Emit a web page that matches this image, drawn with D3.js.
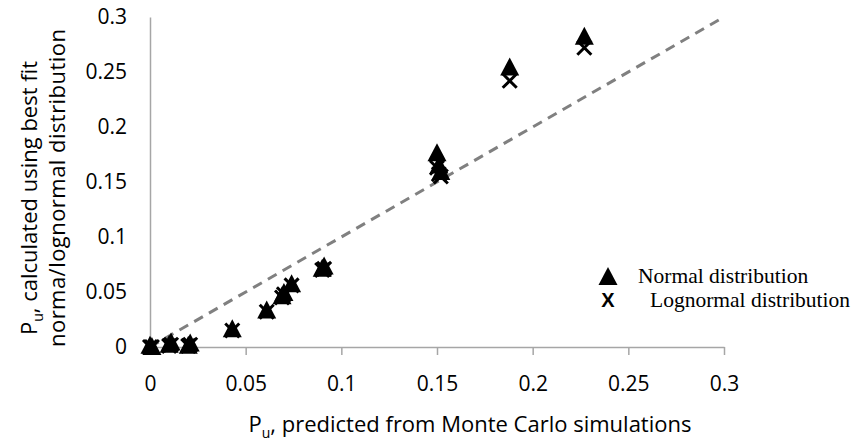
<!DOCTYPE html>
<html>
<head>
<meta charset="utf-8">
<script src="https://cdn.jsdelivr.net/npm/d3@7"></script>
<style>
  body { margin: 0; background: #fff; }
  svg { display: block; }
</style>
</head>
<body>
<svg width="856" height="441"></svg>
<script>
const width = 856;
const height = 441;

// predicted Pu from Monte Carlo and the two fitted values
const predicted = [0, 0.001, 0.01, 0.011, 0.02, 0.021, 0.043, 0.061, 0.069, 0.070, 0.074, 0.090, 0.091, 0.150, 0.151, 0.152, 0.188, 0.227];
const normalFit = [0.002, 0.001, 0.003, 0.005, 0.002, 0.004, 0.017, 0.034, 0.047, 0.050, 0.058, 0.072, 0.074, 0.177, 0.166, 0.160, 0.255, 0.283];
const lognormalFit = [0.0, 0.0, 0.001, 0.002, 0.001, 0.002, 0.015, 0.032, 0.045, 0.048, 0.056, 0.070, 0.071, 0.163, 0.157, 0.155, 0.242, 0.272];
const ticks = [0, 0.05, 0.1, 0.15, 0.2, 0.25, 0.3];
const oneToOne = [0, 0.3];

const svg = d3.select("svg");

const x = d3.scaleLinear().domain([0, 0.3]).range([150, 724]);
const y = d3.scaleLinear().domain([0, 0.3]).range([347, 17]);

const tickFont = "'Open Sans', sans-serif";
const fontSize = "21px";

// x axis
const xAxis = svg.append("g")
  .attr("transform", `translate(0,${y(0)})`)
  .call(d3.axisBottom(x).tickValues(ticks).tickSize(8).tickSizeOuter(0).tickPadding(21)
    .tickFormat(d => d3.format("")(d)));
xAxis.select(".domain").attr("stroke", "#a6a6a6").attr("stroke-width", 1.5);
xAxis.selectAll(".tick line").attr("stroke", "#a6a6a6").attr("stroke-width", 1.5);
xAxis.selectAll("text")
  .attr("fill", "#000")
  .style("font-family", tickFont)
  .style("font-size", fontSize);

// y axis
const yAxis = svg.append("g")
  .attr("transform", `translate(${x(0)},0)`)
  .call(d3.axisLeft(y).tickValues(ticks).tickSize(0).tickSizeOuter(0).tickPadding(23)
    .tickFormat(d => d3.format("")(d)));
yAxis.select(".domain").attr("stroke", "#a6a6a6").attr("stroke-width", 1.5);
yAxis.selectAll("text")
  .attr("fill", "#000")
  .style("font-family", tickFont)
  .style("font-size", fontSize);

// 1:1 line
svg.append("line")
  .attr("x1", x(oneToOne[0])).attr("y1", y(oneToOne[0]))
  .attr("x2", x(oneToOne[1])).attr("y2", y(oneToOne[1]))
  .attr("stroke", "#808080")
  .attr("stroke-width", 3)
  .attr("stroke-dasharray", "10,7");

const pts = predicted.map((p, i) => ({ p, n: normalFit[i], l: lognormalFit[i] }));

// X markers
const xPath = "M-7,-7L7,7M-7,7L7,-7";
svg.append("g").selectAll("path")
  .data(pts)
  .join("path")
  .attr("transform", d => `translate(${x(d.p)},${y(d.l)})`)
  .attr("d", xPath)
  .attr("stroke", "#000")
  .attr("stroke-width", 3)
  .attr("fill", "none");

// triangle markers
const triPath = "M0,-9L9.5,9L-9.5,9Z";
svg.append("g").selectAll("path")
  .data(pts)
  .join("path")
  .attr("transform", d => `translate(${x(d.p)},${y(d.n)})`)
  .attr("d", triPath)
  .attr("fill", "#000");

// legend
const legendFont = "'Liberation Serif', 'Times New Roman', serif";
const legend = svg.append("g");
legend.append("path")
  .attr("transform", "translate(608,276)")
  .attr("d", triPath)
  .attr("fill", "#000");
legend.append("text")
  .attr("x", 638).attr("y", 283)
  .style("font-family", legendFont)
  .style("font-size", "21.5px")
  .text("Normal distribution");
legend.append("text")
  .attr("x", 608).attr("y", 307)
  .attr("text-anchor", "middle")
  .style("font-family", "'Liberation Sans', sans-serif")
  .style("font-weight", "bold")
  .style("font-size", "20px")
  .text("X");
legend.append("text")
  .attr("x", 650).attr("y", 307)
  .style("font-family", legendFont)
  .style("font-size", "21.5px")
  .text("Lognormal distribution");

// axis titles
const xTitle = svg.append("text")
  .attr("x", 470).attr("y", 432)
  .attr("text-anchor", "middle")
  .style("font-family", tickFont)
  .style("font-size", "22px");
xTitle.append("tspan").text("P");
xTitle.append("tspan").attr("dy", 6).style("font-size", "14px").text("u");
xTitle.append("tspan").attr("dy", -6).text(", predicted from Monte Carlo simulations");

const yTitle = svg.append("text")
  .attr("transform", "translate(37,198) rotate(-90)")
  .attr("text-anchor", "middle")
  .style("font-family", tickFont)
  .style("font-size", "22px");
yTitle.append("tspan").text("P");
yTitle.append("tspan").attr("dy", 6).style("font-size", "14px").text("u");
yTitle.append("tspan").attr("dy", -6).text(", calculated using best fit");

svg.append("text")
  .attr("transform", "translate(65,188) rotate(-90)")
  .attr("text-anchor", "middle")
  .attr("textLength", 318)
  .attr("lengthAdjust", "spacing")
  .style("font-family", tickFont)
  .style("font-size", "22px")
  .text("norma/lognormal distribution");
</script>
</body>
</html>
